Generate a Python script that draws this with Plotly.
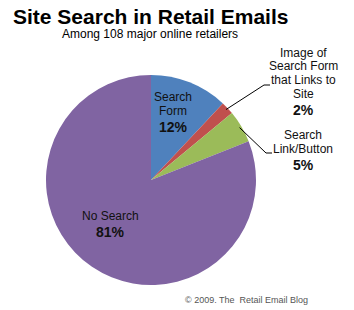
import math
import plotly.graph_objects as go

# Data
labels = ["Search Form", "Image of Search Form that Links to Site", "Search Link/Button", "No Search"]
values = [12, 2, 5, 81]
colors = ["#4F81BD", "#C0504D", "#9BBB59", "#8064A2"]
label_lines = [["Search", "Form"], ["Image of", "Search Form", "that Links to", "Site"],
               ["Search", "Link/Button"], ["No Search"]]

W, H = 354, 310
# pie geometry in pixels
cx, cy, R = 151, 180, 105

def px(x):
    return x / W

def py(y):
    return 1 - y / H

fig = go.Figure(go.Pie(
    labels=labels, values=values, sort=False, direction="clockwise", rotation=0,
    marker=dict(colors=colors, line=dict(width=0)),
    textinfo="none", hoverinfo="label+percent", showlegend=False,
    domain=dict(x=[px(cx - R), px(cx + R)], y=[py(cy + R), py(cy - R)]),
))

total = sum(values)
mids = []
acc = 0
for v in values:
    mids.append((acc + v / 2) / total * 360)
    acc += v

def edge(angle, r):
    a = math.radians(angle)
    return cx + r * math.sin(a), cy - r * math.cos(a)

font = "Arial, Liberation Sans, sans-serif"
ann = []
# Title & subtitle
ann.append(dict(x=px(150), y=py(16), text="<b>Site Search in Retail Emails</b>", showarrow=False,
                font=dict(family=font, size=21, color="#000"), xanchor="center", yanchor="middle"))
ann.append(dict(x=px(150), y=py(34), text="Among 108 major online retailers", showarrow=False,
                font=dict(family=font, size=12, color="#000"), xanchor="center", yanchor="middle"))
ann.append(dict(x=px(247), y=py(300), text="© 2009. The  Retail Email Blog", showarrow=False,
                font=dict(family=font, size=9, color="#555"), xanchor="center", yanchor="middle"))

# label positions: (center x, y of first line)
label_pos = [(173, 97), (303, 53), (303, 135), (110, 216)]
for i, (lx, ly) in enumerate(label_pos):
    y = ly
    for j, line in enumerate(label_lines[i]):
        ann.append(dict(x=px(lx), y=py(y), text=line, showarrow=False,
                        font=dict(family=font, size=12, color="#111"), xanchor="center", yanchor="middle"))
        if j < len(label_lines[i]) - 1:
            y += 13.5
    y += 16
    ann.append(dict(x=px(lx), y=py(y), text=f"<b>{values[i]}%</b>", showarrow=False,
                    font=dict(family=font, size=14, color="#111"), xanchor="center", yanchor="middle"))

# leader lines for small slices
elbows = {1: ((264, 85), (270, 85)), 2: ((266, 153), (272, 153))}
shapes = []
for i, ((ex, ey), (tx, ty)) in elbows.items():
    sx, sy = edge(mids[i], R * 0.98)
    shapes.append(dict(type="line", xref="paper", yref="paper", x0=px(sx), y0=py(sy), x1=px(ex), y1=py(ey),
                       line=dict(color="#000", width=1)))
    shapes.append(dict(type="line", xref="paper", yref="paper", x0=px(ex), y0=py(ey), x1=px(tx), y1=py(ty),
                       line=dict(color="#000", width=1)))

fig.update_layout(width=W, height=H, margin=dict(l=0, r=0, t=0, b=0),
                  paper_bgcolor="white", plot_bgcolor="white",
                  annotations=ann, shapes=shapes)
fig.write_html("out.html")
